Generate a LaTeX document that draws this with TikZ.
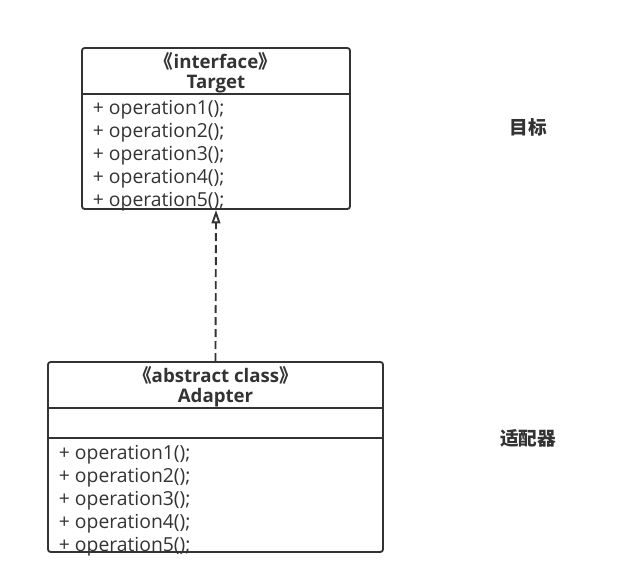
\documentclass[tikz,border=0pt]{standalone}
\usepackage{fontspec}
\setmainfont{Open Sans}
\newfontfamily\cjk{Noto Sans CJK SC}
\usetikzlibrary{arrows.meta}
\definecolor{umlgray}{HTML}{333333}

\begin{document}
\begin{tikzpicture}[x= 0.75pt, y= -0.75pt, line width= 1.4pt, draw= umlgray, text= umlgray,
	umlbox/.style= {draw, rounded corners= 2pt, inner sep= 0pt},
	optext/.style= {anchor= west, inner sep= 0pt, font= \fontsize{14.5}{16}\selectfont},
	headtext/.style= {inner sep= 0pt, font= \fontsize{14}{16}\selectfont\bfseries},
	notetext/.style= {inner sep= 0pt, font= \fontsize{14}{16}\selectfont\cjk\bfseries}]
%	1単位 = 1px
	\useasboundingbox (0, 0) rectangle (639, 585);
	\node[umlbox, minimum width= 201pt, minimum height= 120.75pt] (target) at (216, 128.5) {}; %目標の箱
	\draw (target.west |- 0, 94)-- (target.east |- 0, 94); %見出しの仕切り
	\node[headtext] (targetst) at (216, 61) {{\cjk 《}interface{\cjk 》}};
	\node[headtext] (targetnm) at (216, 84) {Target};
	\foreach \i in {1, ..., 5}
		\node[optext] (targetop\i) at (92, 110+23*\i-23) {+ operation\i();};
	\node[umlbox, minimum width= 251.25pt, minimum height= 142.5pt] (adapter) at (215.5, 457) {}; %適配器の箱
	\draw (adapter.west |- 0, 408)-- (adapter.east |- 0, 408); %見出しの仕切り
	\draw (adapter.west |- 0, 438)-- (adapter.east |- 0, 438); %属性の仕切り
	\node[headtext] (adapterst) at (215.5, 375) {{\cjk 《}abstract class{\cjk 》}};
	\node[headtext] (adapternm) at (215.5, 398) {Adapter};
	\foreach \i in {1, ..., 5}
		\node[optext] (adapterop\i) at (58, 455+23*\i-23) {+ operation\i();};
	\draw[dash pattern= on 6pt off 3pt, -{Triangle[open, length= 10pt, width= 6.5pt]}] (adapter.north)-- (target.south); %実現の矢印
	\node[notetext] (targetnote) at (528, 127) {目标};
	\node[notetext] (adapternote) at (528, 438) {适配器};
\end{tikzpicture}
\end{document}
